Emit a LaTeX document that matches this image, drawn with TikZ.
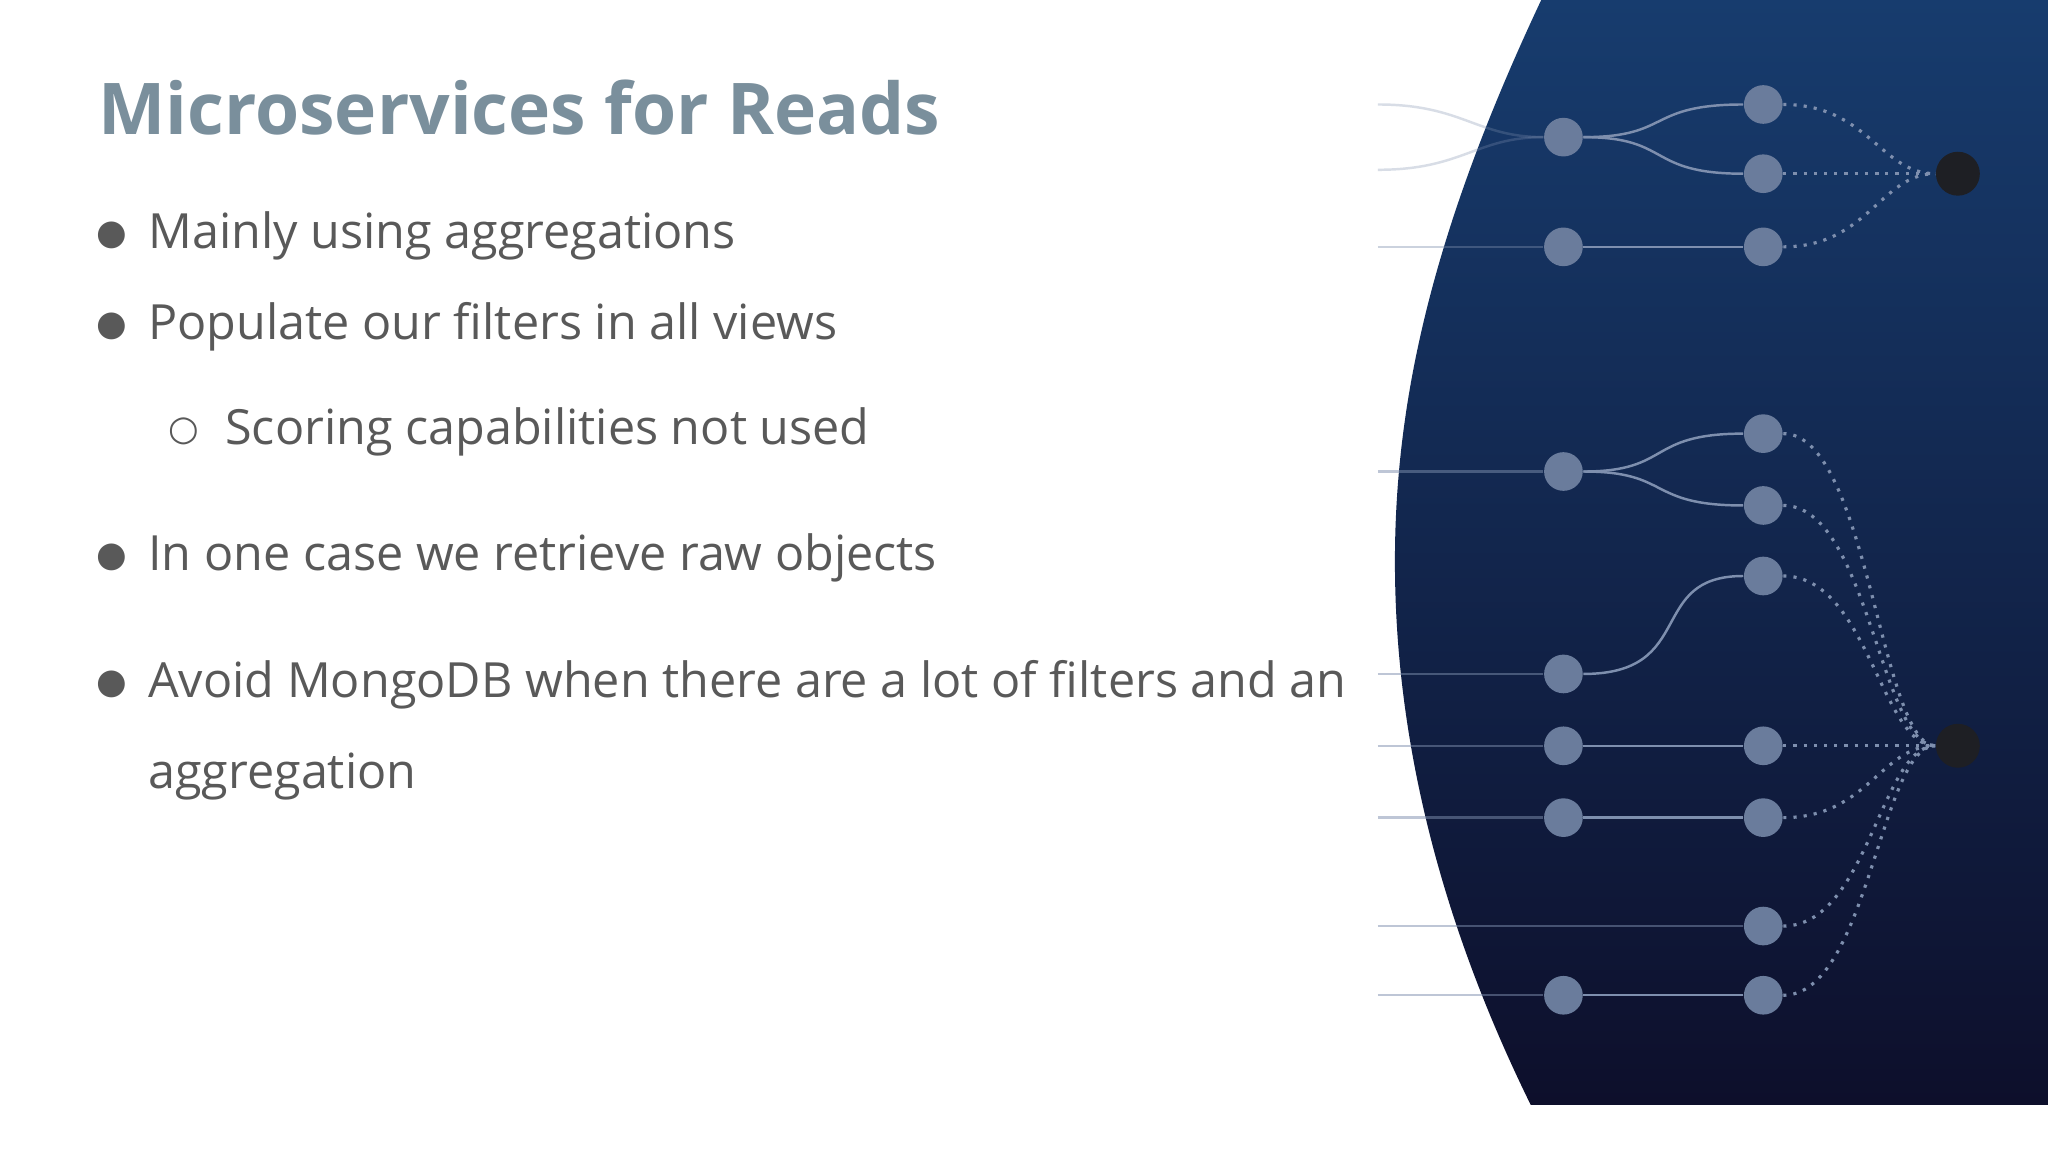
\documentclass[tikz,border=0pt]{standalone}
\usepackage{fontspec}
\setmainfont{Open Sans}
\newfontfamily\symf{DejaVu Sans}
\definecolor{txt}{HTML}{595959}
\definecolor{ttl}{HTML}{7A8F9C}
\definecolor{dotc}{HTML}{6A7C9C}
\definecolor{linec}{HTML}{7E8FAE}
\definecolor{endc}{HTML}{1E1F24}
\definecolor{navyT}{HTML}{173C6E}
\definecolor{navyB}{HTML}{0D0F2B}
\begin{document}
\begin{tikzpicture}[x=0.01306cm,y=-0.01306cm,
  pt/.style={circle,fill=dotc,minimum size=11pt,inner sep=0},
  endpt/.style={circle,fill=endc,minimum size=12.5pt,inner sep=0},
  ln/.style={linec,line width=0.7pt},
  dl/.style={linec,line width=0.9pt,dotted},
  body/.style={anchor=base west,inner sep=0,text=txt,font=\fontsize{13.8}{16}\selectfont},
  bul/.style={anchor=base,inner sep=0,text=txt,font=\symf\fontsize{10}{12}\selectfont}]
\useasboundingbox (0,0) rectangle (1568,882);
\fill[white] (0,0) rectangle (1568,882);
\shade[top color=navyT,bottom color=navyB] (1180,0) .. controls (1100,170) and (1068,300) .. (1068,430) .. controls (1068,580) and (1110,720) .. (1172,846) -- (1568,846) -- (1568,0) -- cycle;
% title and bullets
\node[anchor=base west,inner sep=0,text=ttl,font=\bfseries\fontsize{20.3}{24}\selectfont] (title) at (75,103) {Microservices for Reads};
\node[bul] (b1) at (86,187) {●};
\node[body] (t1) at (113,190) {Mainly using aggregations};
\node[bul] (b2) at (86,257) {●};
\node[body] (t2) at (113,260) {Populate our filters in all views};
\node[bul] (b3) at (141,337) {○};
\node[body] (t3) at (172,340) {Scoring capabilities not used};
\node[bul] (b4) at (86,434) {●};
\node[body] (t4) at (113,437) {In one case we retrieve raw objects};
\node[bul] (b5) at (86,531) {●};
\node[body] (t5) at (113,534) {Avoid MongoDB when there are a lot of filters and an};
\node[body] (t6) at (113,604) {aggregation};
% network coordinates
\foreach \n/\y in {l1/80,l2/130,l3/189,l4/361,l5/516,l6/571,l7/626,l8/709,l9/762}
  \coordinate (\n) at (1055,\y);
% top group
\node[pt] (a1) at (1197,105) {};
\node[pt] (a2) at (1197,189) {};
\node[pt] (p1) at (1350,80) {};
\node[pt] (p2) at (1350,133) {};
\node[pt] (p3) at (1350,189) {};
\node[endpt] (e1) at (1499,133) {};
\draw[ln,opacity=0.3] (l1) .. controls (1120,80) and (1130,105) .. (a1);
\draw[ln,opacity=0.3] (l2) .. controls (1120,130) and (1130,105) .. (a1);
\draw[ln,opacity=0.4] (l3) -- (a2);
\draw[ln] (a1) .. controls (1280,105) and (1260,80) .. (p1);
\draw[ln] (a1) .. controls (1280,105) and (1260,133) .. (p2);
\draw[ln] (a2) -- (p3);
\foreach \p in {p1,p2,p3}
  \draw[dl] (\p) .. controls +(80,0) and (1440,133) .. (e1);
% bottom group
\node[pt] (a4) at (1197,361) {};
\node[pt] (a5) at (1197,516) {};
\node[pt] (a6) at (1197,571) {};
\node[pt] (a7) at (1197,626) {};
\node[pt] (a9) at (1197,762) {};
\node[pt] (q1) at (1350,332) {};
\node[pt] (q2) at (1350,387) {};
\node[pt] (q3) at (1350,441) {};
\node[pt] (q4) at (1350,571) {};
\node[pt] (q5) at (1350,626) {};
\node[pt] (q6) at (1350,709) {};
\node[pt] (q7) at (1350,762) {};
\node[endpt] (e2) at (1499,571) {};
\draw[ln,opacity=0.5] (l4) -- (a4);
\draw[ln,opacity=0.5] (l5) -- (a5);
\draw[ln,opacity=0.5] (l6) -- (a6);
\draw[ln,opacity=0.5] (l7) -- (a7);
\draw[ln,opacity=0.5] (l8) -- (q6);
\draw[ln,opacity=0.5] (l9) -- (a9);
\draw[ln] (a4) .. controls (1280,361) and (1260,332) .. (q1);
\draw[ln] (a4) .. controls (1280,361) and (1260,387) .. (q2);
\draw[ln] (a5) .. controls (1300,516) and (1260,441) .. (q3);
\draw[ln] (a6) -- (q4);
\draw[ln] (a7) -- (q5);
\draw[ln] (a9) -- (q7);
\foreach \p in {q1,q2,q3,q4,q5,q6,q7}
  \draw[dl] (\p) .. controls +(80,0) and (1440,571) .. (e2);
\end{tikzpicture}
\end{document}
